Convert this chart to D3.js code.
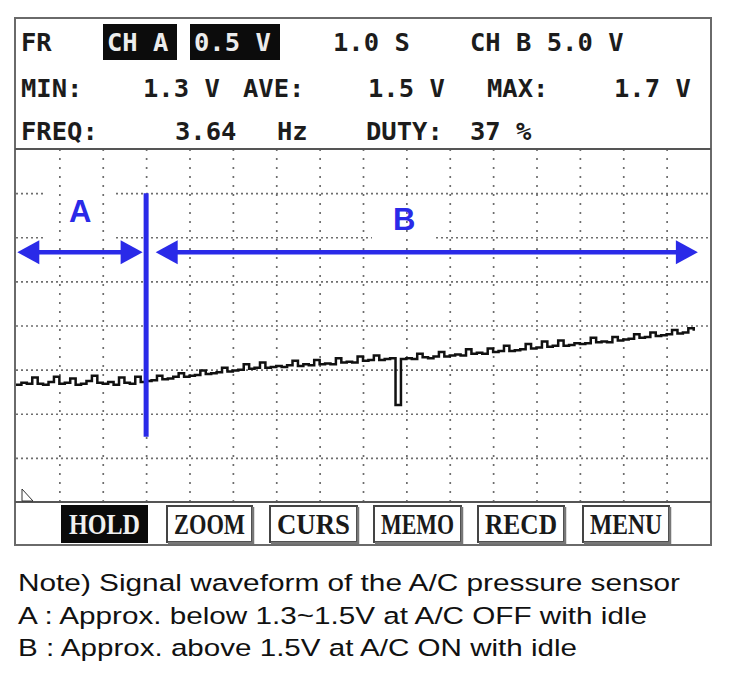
<!DOCTYPE html>
<html>
<head>
<meta charset="utf-8">
<script src="https://cdn.jsdelivr.net/npm/d3@7"></script>
<style>
  html, body { margin: 0; padding: 0; background: #fff; }
  svg { display: block; }
</style>
</head>
<body>
<svg id="chart" width="729" height="673"></svg>
<script>
// ---------- data ----------
// time axis: 1.0 s / div, 16 divisions; voltage: 0.5 V / div, 8 divisions
const timeDivs = 16;
const voltDivs = 8;
const voltPerDiv = 0.5;
const sampleStep = 0.125; // seconds between samples

// waveform samples (V), one row per second
const waveVolts = [
  1.33,1.35,1.34,1.41,1.34,1.33,1.36,1.42,
  1.34,1.35,1.40,1.33,1.34,1.37,1.43,1.35,
  1.34,1.36,1.33,1.41,1.35,1.34,1.42,1.36,
  1.37,1.38,1.43,1.39,1.40,1.42,1.46,1.42,
  1.43,1.44,1.49,1.45,1.46,1.47,1.52,1.48,
  1.49,1.50,1.56,1.51,1.52,1.58,1.52,1.53,
  1.54,1.53,1.55,1.60,1.54,1.56,1.55,1.61,
  1.56,1.57,1.56,1.63,1.58,1.59,1.58,1.65,
  1.60,1.61,1.66,1.61,1.62,1.63,1.10,1.62,
  1.63,1.62,1.68,1.64,1.63,1.65,1.70,1.65,
  1.66,1.67,1.66,1.73,1.68,1.69,1.68,1.74,
  1.70,1.71,1.77,1.71,1.72,1.73,1.79,1.74,
  1.75,1.82,1.76,1.77,1.83,1.77,1.78,1.80,
  1.79,1.80,1.86,1.81,1.82,1.81,1.87,1.83,
  1.84,1.85,1.90,1.86,1.87,1.92,1.88,1.89,
  1.90,1.95,1.91,1.92,1.97,1.94
];

// annotation: marker at A/C switch, arrows for regions A and B
const markerTime = 3.0;
const markerVolts = [3.5, 0.74];
const arrowVolt = 2.83;
const regionNames = ["A", "B"];
const regionStart = [0.03, 3.22];
const regionEnd = [2.92, 15.72];
const regionLabelTime = [1.48, 8.95];
const regionLabelVolt = [3.17, 3.08];

// header readouts
const headerRow1 = [["FR", 21, false], ["CH A", 107, true], ["0.5 V", 194, true], ["1.0 S", 333, false], ["CH B 5.0 V", 470, false]];
const headerRow2 = [["MIN:", 21], ["1.3 V", 143], ["AVE:", 243], ["1.5 V", 368], ["MAX:", 487], ["1.7 V", 614]];
const headerRow3 = [["FREQ:", 21], ["3.64", 175], ["Hz", 277], ["DUTY:", 366], ["37 %", 470]];
const reverseBoxes = [[103, 177], [190, 280]];

// soft-key buttons
const buttons = ["HOLD", "ZOOM", "CURS", "MEMO", "RECD", "MENU"];
const buttonLeft = [61, 166, 269, 373, 477, 582];
const buttonRight = [148, 253, 358, 462, 565, 670];

// note lines
const noteLines = [
  "Note) Signal waveform of the A/C pressure sensor",
  "A : Approx. below 1.3~1.5V at A/C OFF with idle",
  "B : Approx. above 1.5V at A/C ON with idle"
];
const noteWidths = [662, 629, 559];

// ---------- drawing ----------
const svg = d3.select("#chart");
const frame = {left: 15, right: 711, top: 18, bottom: 545};
const plot = {left: 16, right: 710, top: 149, bottom: 502};
const blue = "#2a2ae8";

const x = d3.scaleLinear().domain([0, timeDivs]).range([plot.left, plot.right]);
const y = d3.scaleLinear().domain([0, voltDivs * voltPerDiv]).range([plot.bottom, plot.top]);

// outer frame
svg.append("rect")
  .attr("x", frame.left).attr("y", frame.top)
  .attr("width", frame.right - frame.left).attr("height", frame.bottom - frame.top)
  .attr("fill", "#fff").attr("stroke", "#6a6a6a").attr("stroke-width", 2);

// header
const monoFont = "'DejaVu Sans Mono', monospace";
const hdr = svg.append("g").attr("font-family", monoFont).attr("font-weight", "bold")
  .attr("font-size", 25.5).attr("fill", "#1c1c1c");

hdr.selectAll("rect.rev").data(reverseBoxes).join("rect")
  .attr("class", "rev")
  .attr("x", d => d[0]).attr("y", 24)
  .attr("width", d => d[1] - d[0]).attr("height", 36)
  .attr("fill", "#0c0c0c");

hdr.selectAll("text.r1").data(headerRow1).join("text")
  .attr("class", "r1")
  .attr("x", d => d[1]).attr("y", 51)
  .attr("fill", d => d[2] ? "#ececec" : "#1c1c1c")
  .text(d => d[0]);
hdr.selectAll("text.r2").data(headerRow2).join("text")
  .attr("class", "r2")
  .attr("x", d => d[1]).attr("y", 97)
  .text(d => d[0]);
hdr.selectAll("text.r3").data(headerRow3).join("text")
  .attr("class", "r3")
  .attr("x", d => d[1]).attr("y", 140)
  .text(d => d[0]);

// gridlines - horizontal
const gridH = svg.append("g")
  .attr("transform", `translate(${plot.left},0)`)
  .call(d3.axisLeft(y)
    .tickValues(d3.range(1, voltDivs).map(i => i * voltPerDiv))
    .tickSize(-(plot.right - plot.left))
    .tickFormat(""));
gridH.select(".domain").remove();
gridH.selectAll(".tick line")
  .attr("stroke", "#6e6e6e").attr("stroke-width", 1.7).attr("stroke-dasharray", "2,3");

// knockouts behind region labels (cover horizontal grid only)
const knock = [[45, 113, 180, 246], [372, 434, 205, 246]];
svg.selectAll("rect.knock").data(knock).join("rect")
  .attr("class", "knock")
  .attr("x", d => d[0]).attr("y", d => d[2])
  .attr("width", d => d[1] - d[0]).attr("height", d => d[3] - d[2])
  .attr("fill", "#fff");

// gridlines - vertical
const gridV = svg.append("g")
  .attr("transform", `translate(0,${plot.top})`)
  .call(d3.axisTop(x)
    .tickValues(d3.range(1, timeDivs))
    .tickSize(-(plot.bottom - plot.top))
    .tickFormat(""));
gridV.select(".domain").remove();
gridV.selectAll(".tick line")
  .attr("stroke", "#6e6e6e").attr("stroke-width", 1.7).attr("stroke-dasharray", "2,7");

// separators
svg.append("line").attr("x1", frame.left).attr("x2", frame.right)
  .attr("y1", plot.top).attr("y2", plot.top).attr("stroke", "#555").attr("stroke-width", 2.2);
svg.append("line").attr("x1", frame.left).attr("x2", frame.right)
  .attr("y1", plot.bottom).attr("y2", plot.bottom).attr("stroke", "#555").attr("stroke-width", 2.2);

// trigger cursor mark (bottom-left)
svg.append("path")
  .attr("d", `M${plot.left + 6},${plot.bottom - 13} L${plot.left + 6},${plot.bottom - 1} L${plot.left + 17},${plot.bottom - 1} Z`)
  .attr("fill", "none").attr("stroke", "#333").attr("stroke-width", 1);

// waveform
const waveData = waveVolts.map((v, i) => ({t: i * sampleStep, v}));
svg.append("path")
  .datum(waveData)
  .attr("d", d3.line().x(d => x(d.t)).y(d => y(d.v)).curve(d3.curveStepAfter))
  .attr("fill", "none").attr("stroke", "#111").attr("stroke-width", 2.5)
  .attr("stroke-linejoin", "miter");

// marker line
svg.append("line")
  .attr("x1", x(markerTime)).attr("x2", x(markerTime))
  .attr("y1", y(markerVolts[0])).attr("y2", y(markerVolts[1]))
  .attr("stroke", blue).attr("stroke-width", 5);

// arrows
const headLen = 22, headHalf = 12;
function arrowHead(tipX, tipY, dir) {
  const bx = tipX - dir * headLen;
  return `M${tipX},${tipY} L${bx},${tipY - headHalf} L${bx},${tipY + headHalf} Z`;
}
const ay = y(arrowVolt);
regionNames.forEach((name, i) => {
  const x0 = x(regionStart[i]), x1 = x(regionEnd[i]);
  svg.append("line")
    .attr("x1", x0 + headLen - 2).attr("x2", x1 - headLen + 2)
    .attr("y1", ay).attr("y2", ay)
    .attr("stroke", blue).attr("stroke-width", 4.5);
  svg.append("path").attr("d", arrowHead(x0, ay, -1)).attr("fill", blue);
  svg.append("path").attr("d", arrowHead(x1, ay, 1)).attr("fill", blue);
  svg.append("text")
    .attr("x", x(regionLabelTime[i])).attr("y", y(regionLabelVolt[i]))
    .attr("text-anchor", "middle")
    .attr("font-family", "'Liberation Sans', Arial, sans-serif")
    .attr("font-weight", "bold").attr("font-size", 31)
    .attr("fill", blue)
    .text(name);
});

// buttons
const btn = svg.append("g");
buttons.forEach((label, i) => {
  const l = buttonLeft[i], r = buttonRight[i];
  const active = i === 0;
  const g = btn.append("g");
  if (active) {
    g.append("rect").attr("x", l).attr("y", 505).attr("width", r - l).attr("height", 38).attr("fill", "#0a0a0a");
  } else {
    g.append("rect").attr("x", l + 1).attr("y", 506).attr("width", r - l - 2).attr("height", 36)
      .attr("fill", "#fff").attr("stroke", "#444").attr("stroke-width", 2);
    g.append("path")
      .attr("d", `M${l + 2},${543} L${r},${543} L${r},${507}`)
      .attr("fill", "none").attr("stroke", "#777").attr("stroke-width", 2.5);
  }
  g.append("text")
    .attr("x", (l + r) / 2).attr("y", 534)
    .attr("text-anchor", "middle")
    .attr("font-family", "'Liberation Serif', 'Times New Roman', serif")
    .attr("font-weight", "bold").attr("font-size", 30)
    .attr("textLength", r - l - 16).attr("lengthAdjust", "spacingAndGlyphs")
    .attr("fill", active ? "#f0f0f0" : "#1a1a1a")
    .text(label);
});

// note text
svg.selectAll("text.note").data(noteLines).join("text")
  .attr("class", "note")
  .attr("x", 18).attr("y", (d, i) => 591 + i * 32.5)
  .attr("font-family", "'Liberation Sans', Arial, sans-serif")
  .attr("font-size", 24.5)
  .attr("fill", "#111")
  .attr("textLength", (d, i) => noteWidths[i]).attr("lengthAdjust", "spacingAndGlyphs")
  .text(d => d);
</script>
</body>
</html>
